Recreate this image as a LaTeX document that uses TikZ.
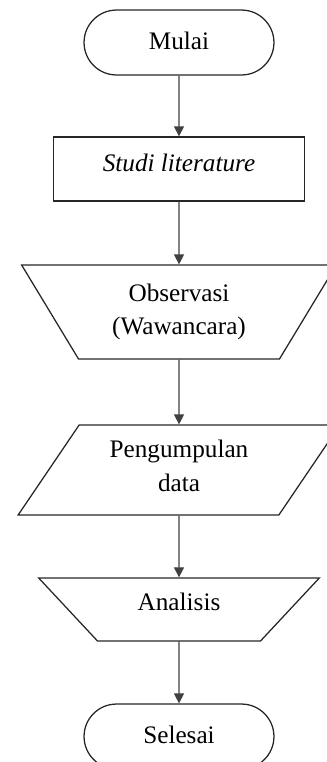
\documentclass[tikz,border=0pt]{standalone}
\usepackage{fontspec}
\setmainfont{Liberation Serif}
\usetikzlibrary{shapes.geometric,shapes.misc,arrows.meta}
\begin{document}
\begin{tikzpicture}
    [x=0.476pt, y=-0.476pt,
    semithick,
    font=\fontsize{12}{16}\selectfont,
    terminal/.style={draw=black!85, rounded rectangle, inner sep=0pt,
      minimum width=90.4pt, minimum height=30.9pt, text depth=1.5pt},
    process/.style={draw=black!85, rectangle, inner sep=0pt,
      minimum width=119.5pt, minimum height=30.5pt},
    manual/.style={draw=black!85, trapezium, trapezium stretches=true,
      inner sep=0pt, align=center},
    flow/.style={draw=black!75, -{Triangle[length=4.8pt,width=4.8pt]}},
    ]
    \path[use as bounding box, clip] (0,0) rectangle (327,762);
    \node[terminal] (mulai) at (179,42.5) {Mulai};
    \node[process, text depth=6pt] (studi) at (179,169) {\textit{Studi literature}};
    \node[manual, trapezium left angle=123.8, trapezium right angle=123.8,
      minimum width=150.4pt, minimum height=44.7pt]
      (observasi) at (179,312) {Observasi\\(Wawancara)};
    \node[manual, trapezium left angle=54.6, trapezium right angle=125.4,
      minimum width=153.3pt, minimum height=42.8pt, text depth=4pt]
      (data) at (179,470) {Pengumpulan\\data};
    \node[manual, trapezium left angle=131.9, trapezium right angle=131.9,
      minimum width=134.2pt, minimum height=30pt, text depth=7.5pt]
      (analisis) at (179,609.5) {Analisis};
    \node[terminal] (selesai) at (179,736.5) {Selesai};
    % connectors
    \draw[flow] (mulai) -- (studi);
    \draw[flow] (studi) -- (observasi);
    \draw[flow] (observasi) -- (data);
    \draw[flow] (data) -- (analisis);
    \draw[flow] (analisis) -- (selesai);
  \end{tikzpicture}
\end{document}
